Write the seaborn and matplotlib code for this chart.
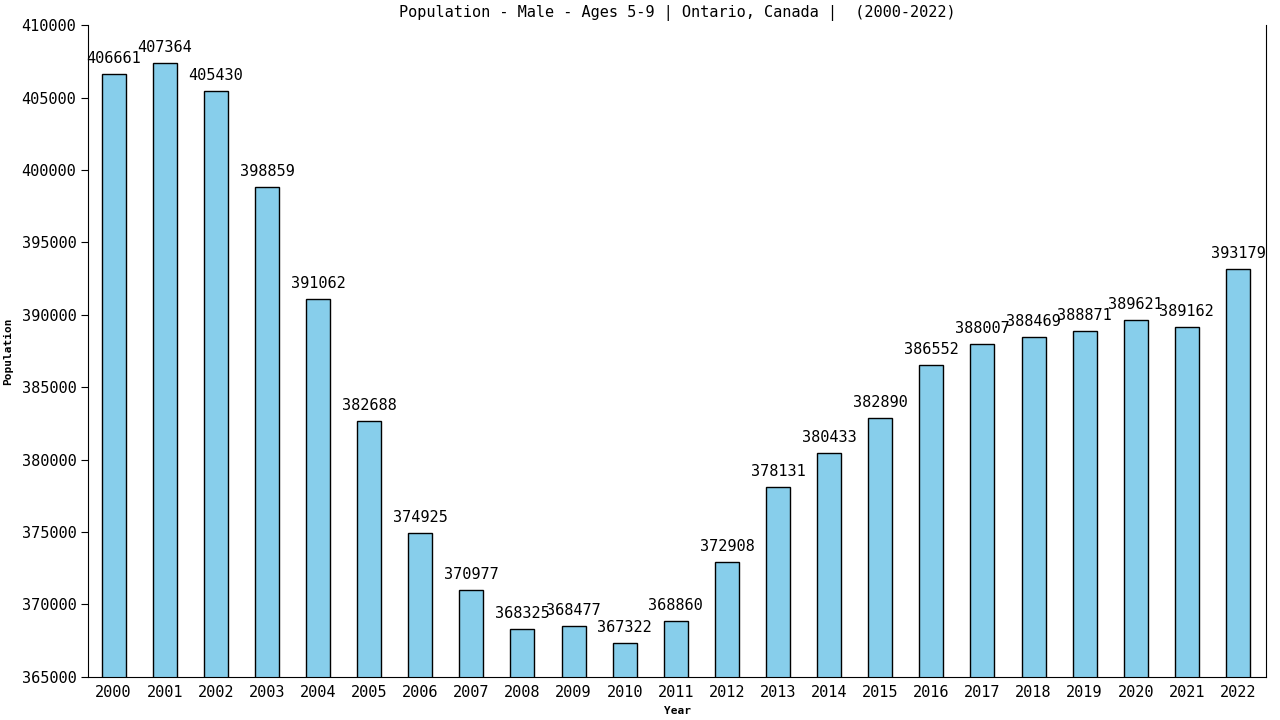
import pandas as pd
import matplotlib.pyplot as plt
import seaborn as sns

# Ontario male population, ages 5-9
years = [str(y) for y in range(2000, 2023)]
population = [406661, 407364, 405430, 398859, 391062, 382688, 374925, 370977,
              368325, 368477, 367322, 368860, 372908, 378131, 380433, 382890,
              386552, 388007, 388469, 388871, 389621, 389162, 393179]

df = pd.DataFrame({'Year': years, 'Population': population})

sns.set_style('white')
plt.rcParams['font.family'] = ['DejaVu Sans Mono', 'DejaVu Sans']
plt.rcParams['text.color'] = 'black'
plt.rcParams['axes.labelcolor'] = 'black'
plt.rcParams['xtick.color'] = 'black'
plt.rcParams['ytick.color'] = 'black'

fig = plt.figure(figsize=(12.8, 7.2), dpi=100)
ax = fig.add_axes([0.0688, 0.060, 0.9203, 0.905])

sns.barplot(data=df, x='Year', y='Population', color='#87CEEB',
            edgecolor='black', linewidth=1, width=0.47, saturation=1, ax=ax)

for i, v in enumerate(population):
    ax.text(i, v + 550, str(v), ha='center', va='bottom', fontsize=11)

ax.set_ylim(365000, 410000)
ax.set_xlim(-0.5, 22.55)
ax.set_yticks(range(365000, 410001, 5000))
ax.tick_params(axis='both', labelsize=11, length=5, direction='out', color='black')
ax.tick_params(axis='x', length=0, pad=6)
ax.tick_params(axis='y', left=True)
for s in ['left', 'right', 'bottom']:
    ax.spines[s].set_visible(True)
    ax.spines[s].set_color('black')
ax.spines['top'].set_visible(False)

ax.set_title('Population - Male - Ages 5-9 | Ontario, Canada |  (2000-2022)', fontsize=11, pad=6)
ax.set_xlabel('Year', fontsize=8, fontweight='bold', labelpad=4)
ax.set_ylabel('Population', fontsize=8, fontweight='bold', labelpad=6)

fig.savefig('out.png', dpi=100)
